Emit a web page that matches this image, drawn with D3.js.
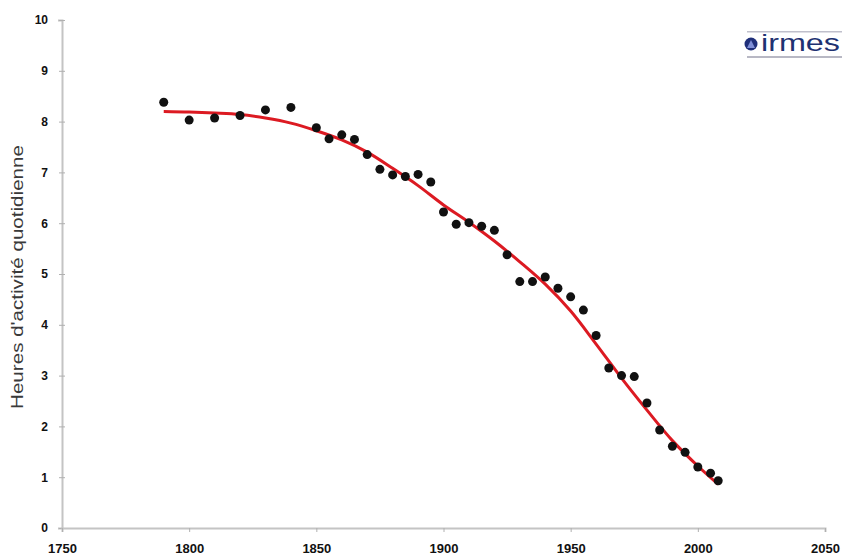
<!DOCTYPE html>
<html>
<head>
<meta charset="utf-8">
<script src="https://cdn.jsdelivr.net/npm/d3@7.9.0/dist/d3.min.js"></script>
<style>
  body { margin: 0; background: #fff; }
  svg { display: block; font-family: "Liberation Sans", Arial, sans-serif; }
</style>
</head>
<body>
<div id="chart"></div>
<script>
// Observed points (year, daily hours)
const pointYears = [1790, 1800, 1810, 1820, 1830, 1840, 1850, 1855, 1860, 1865,
  1870, 1875, 1880, 1885, 1890, 1895, 1900, 1905, 1910, 1915,
  1920, 1925, 1930, 1935, 1940, 1945, 1950, 1955, 1960, 1965,
  1970, 1975, 1980, 1985, 1990, 1995, 2000, 2005, 2008];
const pointHours = [8.38, 8.03, 8.07, 8.12, 8.23, 8.28, 7.88, 7.66, 7.74, 7.65,
  7.35, 7.06, 6.95, 6.92, 6.96, 6.81, 6.22, 5.98, 6.01, 5.94,
  5.86, 5.38, 4.85, 4.85, 4.94, 4.72, 4.55, 4.29, 3.79, 3.15,
  3.00, 2.98, 2.46, 1.93, 1.61, 1.49, 1.20, 1.08, 0.93];

// Red trend curve
const trendYears = [1790, 1800, 1810, 1820, 1830, 1840, 1850, 1860, 1870, 1880,
  1890, 1900, 1910, 1920, 1930, 1940, 1950, 1960, 1970, 1980, 1990, 2000, 2008];
const trendHours = [8.20, 8.19, 8.17, 8.14, 8.07, 7.97, 7.82, 7.64, 7.40, 7.08,
  6.74, 6.36, 6.02, 5.65, 5.24, 4.80, 4.27, 3.62, 2.95, 2.32, 1.72, 1.22, 0.86];

const xTicks = [1750, 1800, 1850, 1900, 1950, 2000, 2050];
const yTicks = [0, 1, 2, 3, 4, 5, 6, 7, 8, 9, 10];

const width = 848, height = 558;
const margin = { top: 20, right: 23, bottom: 30, left: 62 };

const svg = d3.select("#chart").append("svg")
  .attr("width", width)
  .attr("height", height);

const x = d3.scaleLinear().domain([1750, 2050]).range([margin.left, width - margin.right]);
const y = d3.scaleLinear().domain([0, 10]).range([height - margin.bottom, margin.top]);

// y axis
const yAxis = svg.append("g")
  .attr("transform", `translate(${margin.left},0)`)
  .call(d3.axisLeft(y).tickValues(yTicks).tickSize(4).tickPadding(10));
yAxis.select(".domain").attr("stroke", "#c4c4c4").attr("stroke-width", 2);
yAxis.selectAll(".tick line").attr("stroke", "#b0b0b0").attr("x2", 3).attr("x1", -3);
yAxis.selectAll(".tick text")
  .attr("fill", "#111")
  .style("font-size", "12px")
  .style("font-weight", "bold");

// x axis
const xAxis = svg.append("g")
  .attr("transform", `translate(0,${y(0)})`)
  .call(d3.axisBottom(x).tickValues(xTicks).tickFormat(d3.format("d")).tickSize(4).tickPadding(12));
xAxis.select(".domain").attr("stroke", "#c4c4c4").attr("stroke-width", 2);
xAxis.selectAll(".tick line").attr("stroke", "#b0b0b0");
xAxis.selectAll(".tick text")
  .attr("fill", "#111")
  .style("font-size", "13px")
  .style("font-weight", "bold");

// y axis title
svg.append("text")
  .attr("transform", `translate(23,277) rotate(-90)`)
  .attr("text-anchor", "middle")
  .attr("fill", "#3a3a3a")
  .attr("textLength", 264)
  .attr("lengthAdjust", "spacingAndGlyphs")
  .style("font-size", "17px")
  .text("Heures d'activité quotidienne");

// trend line
const line = d3.line()
  .x((d, i) => x(trendYears[i]))
  .y(d => y(d))
  .curve(d3.curveCatmullRom);

svg.append("path")
  .datum(trendHours)
  .attr("fill", "none")
  .attr("stroke", "#dc1a22")
  .attr("stroke-width", 3)
  .attr("d", line);

// points
svg.append("g")
  .selectAll("circle")
  .data(pointHours)
  .join("circle")
  .attr("cx", (d, i) => x(pointYears[i]))
  .attr("cy", d => y(d))
  .attr("r", 4.5)
  .attr("fill", "#111");

// irmes logo
const logo = svg.append("g").attr("transform", "translate(744,31)");
logo.append("rect").attr("x", 3).attr("y", 0).attr("width", 95).attr("height", 1.5).attr("fill", "#c0c0cc");
logo.append("rect").attr("x", 3).attr("y", 25).attr("width", 95).attr("height", 2).attr("fill", "#b8b8c4");
logo.append("circle").attr("cx", 7).attr("cy", 13).attr("r", 6.5).attr("fill", "#1f2f7a");
logo.append("path")
  .attr("d", "M3,17 L7,9 L11,17 Z")
  .attr("fill", "#7f8fd8");
logo.append("text")
  .attr("x", 17)
  .attr("y", 20)
  .attr("fill", "#1f3272")
  .attr("textLength", 79)
  .attr("lengthAdjust", "spacingAndGlyphs")
  .style("font-size", "24px")
  .text("irmes");
</script>
</body>
</html>
